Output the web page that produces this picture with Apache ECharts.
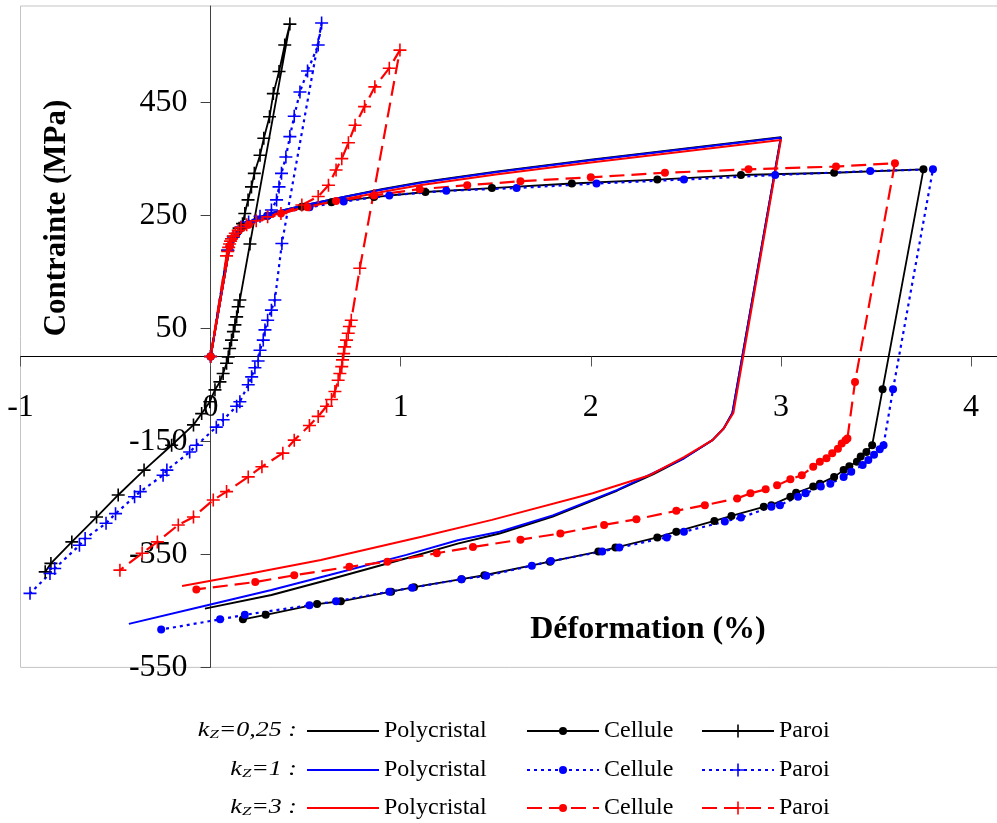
<!DOCTYPE html>
<html><head><meta charset="utf-8">
<script src="https://cdn.jsdelivr.net/npm/echarts@6/dist/echarts.min.js"></script>
<style>html,body{margin:0;padding:0;background:#fff}#c{width:997px;height:823px}</style>
</head><body><div id="c"></div>
<script>
// ---- axis ranges and tick labels ----
const xMin = -1, xMax = 4.15;
const yMin = -550, yMax = 620;
const xTicks = [-1, 0, 1, 2, 3, 4];
const yTicks = [-550, -350, -150, 50, 250, 450];

// ---- row labels / legend names ----
const kValues = ['0,25', '1', '3'];
const curveNames = ['Polycristal', 'Cellule', 'Paroi'];

// ---- kZ = 0,25 (black) ----
const polyBlack = [[0,0],[0.1,195],[0.13,215],[0.2,237],[0.3,252],[0.5,268],[0.7,282],[0.9,296],[1.1,308],[1.5,327],[2.0,348],[2.5,368],[3.0,388],
  [2.745,-100],[2.70,-127],[2.64,-148],[2.49,-180],[2.33,-208],[2.14,-237],[1.80,-283],[1.52,-313],[1.30,-331],[1.03,-357],[0.62,-395],[0.32,-422],[-0.03,-446]];
const cellBlack = [[0,0],[0.1,195],[0.2,235],[0.3,249],[0.48,265],[0.636,273],[0.86,282],[1.13,291],[1.48,298],[1.90,306],[2.35,313],[2.79,321],[3.28,325],[3.75,331],
  [3.535,-58],[3.48,-157],[3.45,-169],[3.42,-177],[3.40,-186],[3.36,-194],[3.33,-201],[3.28,-213],[3.205,-225],[3.17,-230],[3.08,-241],[3.05,-248],[2.95,-263],[2.91,-266],
  [2.74,-282],[2.65,-291],[2.45,-310],[2.35,-320],[2.13,-338],[2.04,-345],[1.785,-363],[1.44,-387],[1.32,-394],[1.07,-408],[0.95,-416],[0.685,-433],[0.56,-438],[0.29,-457],[0.17,-465]];
const paroiBlack = [[0,0],[0.09,188],[0.12,212],[0.15,227],[0.168,235],[0.18,253],[0.197,277],[0.215,300],[0.23,324],[0.26,356],[0.28,386],[0.31,424],[0.33,465],[0.36,504],[0.39,551],[0.417,588],
  [0.207,199],[0.154,100],[0.145,88],[0.137,70],[0.128,56],[0.12,44],[0.11,29],[0.10,14],[0.093,-1],[0.084,-12],[0.066,-30],[0.049,-45],[0.023,-59],[-0.004,-80],[-0.047,-101],
  [-0.09,-121],[-0.205,-157],[-0.35,-201],[-0.486,-245],[-0.6,-284],[-0.73,-328],[-0.84,-366],[-0.87,-381]];

// ---- kZ = 1 (blue) ----
const polyBlue = [[0,0],[0.1,195],[0.13,215],[0.2,237],[0.3,252],[0.5,268],[0.7,282],[0.9,295],[1.1,307],[1.5,326],[2.0,347],[2.5,367],[3.0,387],
  [2.745,-100],[2.70,-127],[2.64,-148],[2.49,-180],[2.33,-206],[2.14,-236],[1.80,-281],[1.52,-310],[1.30,-325],[1.03,-351],[0.62,-387],[0.32,-413],[-0.056,-443],[-0.43,-473]];
const cellBlue = [[0,0],[0.1,195],[0.2,235],[0.3,249],[0.52,264],[0.70,274],[0.94,285],[1.24,293],[1.61,298],[2.03,306],[2.49,313],[2.97,321],[3.47,328],[3.80,331],
  [3.59,-58],[3.54,-157],[3.52,-164],[3.49,-174],[3.46,-183],[3.43,-192],[3.37,-204],[3.33,-213],[3.26,-225],[3.21,-230],[3.13,-242],[3.09,-248],[2.995,-263],[2.95,-266],
  [2.79,-285],[2.705,-292],[2.49,-310],[2.40,-320],[2.15,-338],[2.06,-345],[1.79,-362],[1.69,-370],[1.45,-388],[1.32,-394],[1.06,-409],[0.94,-416],[0.66,-433],[0.52,-440],
  [0.18,-457],[0.05,-465],[-0.26,-483]];
const paroiBlue = [[0,0],[0.09,188],[0.12,212],[0.16,229],[0.2,238],[0.26,248],[0.32,259],[0.347,277],[0.36,300],[0.373,324],[0.396,353],[0.417,389],[0.44,425],[0.47,468],[0.51,505],[0.566,551],[0.584,590],
  [0.375,200],[0.338,100],[0.32,82],[0.30,64],[0.286,47],[0.277,29],[0.26,11],[0.25,-8],[0.233,-20],[0.216,-36],[0.198,-50],[0.154,-80],[0.137,-88],[0.066,-112],[0.03,-125],
  [-0.074,-157],[-0.11,-169],[-0.23,-201],[-0.25,-210],[-0.37,-239],[-0.40,-248],[-0.50,-278],[-0.55,-295],[-0.66,-322],[-0.69,-334],[-0.82,-375],[-0.845,-384],[-0.95,-419]];

// ---- kZ = 3 (red) ----
const polyRed = [[0,0],[0.1,193],[0.13,212],[0.2,233],[0.3,248],[0.5,264],[0.7,278],[0.9,291],[1.1,303],[1.5,322],[2.0,343],[2.5,363],[3.0,383],
  [2.75,-100],[2.70,-127],[2.64,-148],[2.49,-178],[2.31,-210],[2.01,-242],[1.48,-289],[1.11,-319],[0.58,-360],[0.21,-384],[-0.15,-406]];
const cellRed = [[0,0],[0.1,195],[0.2,233],[0.37,253],[0.51,264],[0.66,275],[0.86,285],[1.10,296],[1.35,303],[1.63,310],[2.0,317],[2.39,325],[2.83,331],[3.29,336],[3.60,342],
  [3.39,-45],[3.35,-145],[3.34,-148],[3.32,-154],[3.30,-163],[3.27,-171],[3.24,-180],[3.205,-186],[3.17,-195],[3.11,-210],[3.05,-217],[2.98,-228],[2.92,-235],[2.84,-242],
  [2.77,-251],[2.60,-263],[2.45,-273],[2.24,-288],[2.07,-298],[1.84,-313],[1.63,-324],[1.38,-337],[1.19,-348],[0.93,-363],[0.73,-372],[0.44,-387],[0.235,-399],[-0.075,-412]];
const paroiRed = [[0,0],[0.084,178],[0.09,186],[0.095,193],[0.10,199],[0.105,204],[0.11,208],[0.12,213],[0.13,218],[0.145,223],[0.16,228],[0.19,233],[0.24,240],[0.30,247],[0.37,253],
  [0.48,268],[0.566,283],[0.62,303],[0.66,330],[0.69,350],[0.725,378],[0.76,409],[0.81,442],[0.864,477],[0.94,510],[0.996,542],
  [0.785,156],[0.74,64],[0.73,53],[0.724,41],[0.715,29],[0.705,17],[0.70,5],[0.694,-6],[0.69,-18],[0.68,-30],[0.671,-42],[0.654,-62],[0.636,-76],[0.61,-88],[0.566,-106],
  [0.52,-122],[0.44,-148],[0.38,-171],[0.27,-195],[0.198,-213],[0.084,-239],[0.014,-254],[-0.09,-284],[-0.17,-298],[-0.28,-328],[-0.36,-348],[-0.477,-378]];

// ---- layout / styling ----
const FONT = 'Liberation Serif';
const PLUS = 'path://M0,5.7H13V7.3H0Z M5.7,0H7.3V13H5.7Z';
const G = {left:20.5, top:6, width:979, height:661.4};
// pixel position of the value 0 on each axis (the axes cross there)
const xZeroPx = G.left + G.width * (0 - xMin) / (xMax - xMin);
const yZeroPx = G.top + G.height * (yMax - 0) / (yMax - yMin);

const groups = [
  {color:'#000000', poly:polyBlack, cell:cellBlack, paroi:paroiBlack, cellType:'solid', paroiType:'solid'},
  {color:'#0000ff', poly:polyBlue,  cell:cellBlue,  paroi:paroiBlue,  cellType:[3,4],  paroiType:[3,4]},
  {color:'#ff0000', poly:polyRed,   cell:cellRed,   paroi:paroiRed,   cellType:[15,7], paroiType:[15,7]}
];
const rowY = [731, 770, 808];

const series = [];
const legends = [];
const nameMap = {};
groups.forEach((g, i) => {
  const common = {type:'line', xAxisIndex:0, yAxisIndex:0, silent:true, animation:false, emphasis:{disabled:true}, showAllSymbol:true};
  series.push(Object.assign({}, common, {name:'poly'+i, data:g.poly, symbol:'none',
    lineStyle:{color:g.color, width:2, type:'solid'}, itemStyle:{color:g.color}}));
  series.push(Object.assign({}, common, {name:'cell'+i, data:g.cell, symbol:'circle', symbolSize:8,
    lineStyle:{color:g.color, width:g.cellType==='solid'?1.8:2.2, type:g.cellType}, itemStyle:{color:g.color, borderWidth:0}}));
  series.push(Object.assign({}, common, {name:'paroi'+i, data:g.paroi, symbol:PLUS, symbolSize:13,
    lineStyle:{color:g.color, width:g.paroiType==='solid'?1.8:2.2, type:g.paroiType}, itemStyle:{color:g.color, borderWidth:0}}));
  nameMap['poly'+i] = curveNames[0];
  nameMap['cell'+i] = curveNames[1];
  nameMap['paroi'+i] = curveNames[2];
  const lg = {padding:0, itemGap:0, selectedMode:false, symbolKeepAspect:true,
    textStyle:{fontFamily:FONT, fontSize:24, color:'#000'}, formatter:(n)=>nameMap[n]};
  legends.push(Object.assign({}, lg, {data:[{name:'poly'+i, icon:'path://M0,0H60V1.7H0Z'}], left:307, top:rowY[i]-12, itemWidth:72, itemHeight:14}));
  legends.push(Object.assign({}, lg, {data:['cell'+i], left:526, top:rowY[i]-12, itemWidth:72, itemHeight:10}));
  legends.push(Object.assign({}, lg, {data:['paroi'+i], left:701, top:rowY[i]-12, itemWidth:72, itemHeight:16}));
});

const graphics = [
  {type:'text', x:57, y:218, rotation:Math.PI/2, style:{text:'Contrainte (MPa)', fontFamily:FONT, fontWeight:'bold', fontSize:31, fill:'#000', align:'center', verticalAlign:'middle'}},
  {type:'text', x:648, y:630, style:{text:'Déformation (%)', fontFamily:FONT, fontWeight:'bold', fontSize:32, fill:'#000', align:'center', verticalAlign:'middle'}}
];
kValues.forEach((k, i) => {
  graphics.push({type:'text', x:297, y:rowY[i], scaleX:1.3, style:{
    text:'{i|k}{s|Z}{i|=' + k + ' :}', align:'right', verticalAlign:'middle', fill:'#000',
    rich:{i:{fontFamily:FONT, fontStyle:'italic', fontSize:20, verticalAlign:'bottom'},
          s:{fontFamily:FONT, fontStyle:'italic', fontSize:13, verticalAlign:'bottom'}}}});
});

const hidden = {show:false};
const chart = echarts.init(document.getElementById('c'), null, {renderer:'canvas'});
chart.setOption({
  animation:false,
  backgroundColor:'#ffffff',
  grid:[
    // main plotting area (data)
    {left:G.left, top:G.top, width:G.width, height:G.height, show:true, borderColor:'#c4c4c4', borderWidth:1, backgroundColor:'transparent', outerBoundsMode:'none', containLabel:false},
    // y axis that crosses at x = 0
    {left:xZeroPx, top:G.top, width:100, height:G.height, show:false, outerBoundsMode:'none', containLabel:false},
    // x axis that crosses at y = 0
    {left:G.left, top:G.top, width:G.width, height:yZeroPx - G.top, show:false, outerBoundsMode:'none', containLabel:false}
  ],
  xAxis:[
    {gridIndex:0, type:'value', min:xMin, max:xMax, axisLine:hidden, axisTick:hidden, axisLabel:hidden, splitLine:hidden},
    {gridIndex:1, type:'value', min:0, max:1, show:false},
    {gridIndex:2, type:'value', min:xMin, max:xMax, position:'bottom',
      axisLine:{show:true, onZero:false, lineStyle:{color:'#000', width:1}},
      axisTick:{show:true, length:10, customValues:xTicks, lineStyle:{color:'#555'}},
      axisLabel:{customValues:xTicks, margin:35, fontFamily:FONT, fontSize:32, color:'#000'},
      splitLine:hidden}
  ],
  yAxis:[
    {gridIndex:0, type:'value', min:yMin, max:yMax, axisLine:hidden, axisTick:hidden, axisLabel:hidden, splitLine:hidden},
    {gridIndex:1, type:'value', min:yMin, max:yMax, position:'left',
      axisLine:{show:true, onZero:false, lineStyle:{color:'#404040', width:1}},
      axisTick:{show:true, length:10, customValues:yTicks, lineStyle:{color:'#404040'}},
      axisLabel:{customValues:yTicks, margin:23, fontFamily:FONT, fontSize:32, color:'#000'},
      splitLine:hidden},
    {gridIndex:2, type:'value', min:0, max:1, show:false}
  ],
  legend:legends,
  graphic:graphics,
  series:series
});
</script>
</body></html>
